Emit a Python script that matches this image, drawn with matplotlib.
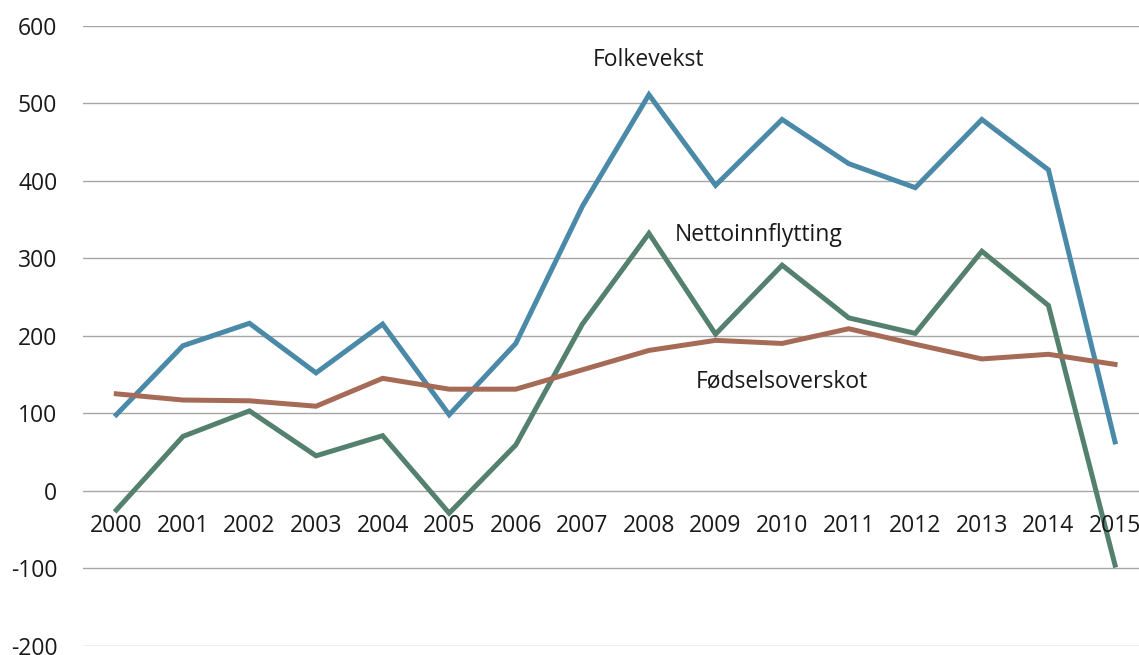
import matplotlib
matplotlib.use("Agg")
import matplotlib.pyplot as plt

years = ["2000", "2001", "2002", "2003", "2004", "2005", "2006", "2007",
         "2008", "2009", "2010", "2011", "2012", "2013", "2014", "2015"]
folkevekst = [98, 187, 216, 152, 215, 98, 190, 367, 511, 394, 479, 422, 391, 479, 414, 63]
nettoinnflytting = [-25, 70, 103, 45, 71, -29, 59, 215, 332, 202, 291, 223, 203, 309, 239, -96]
fodselsoverskot = [125, 117, 116, 109, 145, 131, 131, 156, 181, 194, 190, 209, 189, 170, 176, 163]
yticks = [-200, -100, 0, 100, 200, 300, 400, 500, 600]

plt.rcParams['font.family'] = ['Open Sans', 'DejaVu Sans']

fig = plt.figure(figsize=(11.39, 6.55), dpi=100)
W, H = 1139, 655
left = 83 / W
bottom = 1 - 645.7 / H
top = 1 - 25.7 / H
ax = fig.add_axes([left, bottom, (W - 83) / W, top - bottom])

x = list(range(len(years)))
blue = (0.29, 0.54, 0.66)
green = (0.33, 0.50, 0.43)
brown = (0.65, 0.42, 0.34)

for yv in yticks:
    ax.axhline(yv, color='#a6a6a6', lw=1.0, zorder=1)

ax.plot(x, folkevekst, color=blue, lw=3.6, zorder=3, solid_joinstyle='miter')
ax.plot(x, nettoinnflytting, color=green, lw=3.6, zorder=3, solid_joinstyle='miter')
ax.plot(x, fodselsoverskot, color=brown, lw=3.6, zorder=3, solid_joinstyle='miter')

ax.set_xlim(-0.5, 15.36)
ax.set_ylim(-200, 600)
for s in ax.spines.values():
    s.set_visible(False)
ax.set_xticks([])
ax.set_yticks(yticks)
ax.set_yticklabels([str(v) for v in yticks], fontsize=16.5, color='#1a1a1a')
ax.tick_params(axis='y', length=0, pad=18.5)

for i, lab in enumerate(years):
    ax.annotate(lab, xy=(i, 0), xytext=(0, -35), textcoords='offset pixels',
                ha='center', va='center', fontsize=16.5, color='#1a1a1a',
                annotation_clip=False)

ax.text(8.0, 556, "Folkevekst", ha='center', va='center', fontsize=16.5, color='#1a1a1a')
ax.text(9.65, 330, "Nettoinnflytting", ha='center', va='center', fontsize=16.5, color='#1a1a1a')
ax.text(9.99, 141, "Fødselsoverskot", ha='center', va='center', fontsize=16.5, color='#1a1a1a')

fig.savefig("out.png", dpi=100)
